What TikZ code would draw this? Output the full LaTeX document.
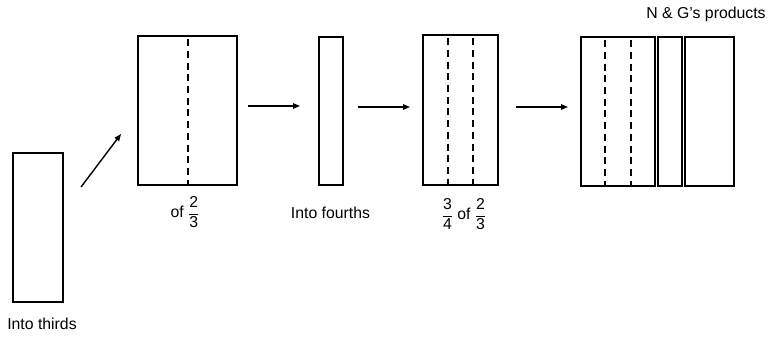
\documentclass[tikz,border=0pt]{standalone}
\usepackage{fontspec}
\setmainfont{Liberation Sans}
\usetikzlibrary{arrows.meta,calc}
\newcommand{\fr}[2]{$\displaystyle\frac{\mbox{#1}}{\mbox{#2}}$}
\begin{document}
\begin{tikzpicture}[x=1pt,y=-1pt,
  bar/.style={draw,line width=1.5pt,inner sep=0pt,minimum height=149pt},
  fold/.style={line width=2pt,dash pattern=on 7pt off 4.7pt,dash phase=7.7pt},
  arr/.style={line width=1.4pt,-{Triangle[length=7pt,width=5.5pt]}},
  lbl/.style={font=\fontsize{15.8}{18}\selectfont,inner sep=0pt}]
\useasboundingbox (0,0) rectangle (770,337);
% strips
\node[bar,minimum width=50pt] (r1) at (38,227.5) {};
\node[bar,minimum width=99pt] (r2) at (187.5,110.5) {};
\node[bar,minimum width=24pt,minimum height=148pt] (r3) at (331,111) {};
\node[bar,minimum width=75pt,minimum height=150pt] (r4) at (460.5,110) {};
\node[bar,minimum width=74pt] (r5a) at (618,111.5) {};
\node[bar,minimum width=24pt] (r5b) at (670,111.5) {};
\node[bar,minimum width=49pt] (r5c) at (709.5,111.5) {};
% fold lines
\draw[fold] (r2.north) -- (r2.south);
\foreach \b in {r4,r5a}{
  \draw[fold] ($(\b.north west)!1/3!(\b.north east)$) -- ($(\b.south west)!1/3!(\b.south east)$);
  \draw[fold] ($(\b.north west)!2/3!(\b.north east)$) -- ($(\b.south west)!2/3!(\b.south east)$);
}
% arrows
\coordinate (a1s) at (81,187);  \coordinate (a1e) at (121,134);
\coordinate (a2s) at (248,106); \coordinate (a2e) at (300,106);
\coordinate (a3s) at (358,107); \coordinate (a3e) at (410,107);
\coordinate (a4s) at (516,107); \coordinate (a4e) at (568,107);
\draw[arr] (a1s) -- (a1e);
\draw[arr] (a2s) -- (a2e);
\draw[arr] (a3s) -- (a3e);
\draw[arr] (a4s) -- (a4e);
% labels
\node[lbl] (t1) at (42,324) {Into thirds};
\node[lbl] (t2) at (185,212) {of \fr{2}{3}};
\node[lbl] (t3) at (330.5,213) {Into fourths};
\node[lbl] (t4) at (464,214) {\fr{3}{4} of \fr{2}{3}};
\node[lbl] (t5) at (706,14) {N \& G’s products};
\end{tikzpicture}
\end{document}
